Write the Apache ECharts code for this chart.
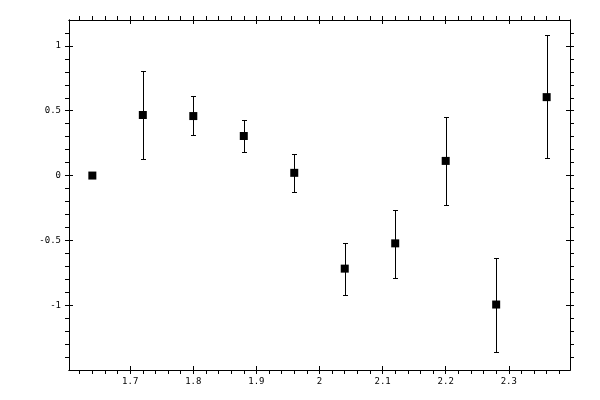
<!DOCTYPE html>
<html>
<head>
<meta charset="utf-8">
<script src="https://cdn.jsdelivr.net/npm/echarts@6/dist/echarts.min.js"></script>
<style>
  html, body { margin: 0; padding: 0; background: #fff; }
  #main { width: 600px; height: 400px; }
</style>
</head>
<body>
<div id="main"></div>
<script>
// measured points
let xValues = [1.64, 1.72, 1.80, 1.88, 1.96, 2.04, 2.12, 2.20, 2.28, 2.36];
let yValues = [0, 0.467, 0.459, 0.305, 0.021, -0.718, -0.523, 0.113, -0.995, 0.605];
let errLow = [null, 0.128, 0.313, 0.182, -0.126, -0.918, -0.787, -0.226, -1.364, 0.136];
let errHigh = [null, 0.805, 0.613, 0.428, 0.169, -0.518, -0.262, 0.451, -0.633, 1.085];

// axis ticks / labels
let xLabelTicks = [1.7, 1.8, 1.9, 2.0, 2.1, 2.2, 2.3];
let yLabelTicks = [-1, -0.5, 0, 0.5, 1];
let xMinorStep = 0.02, xMinorFrom = 1.62, xMinorTo = 2.38;
let yMinorStep = 0.1, yMinorFrom = -1.4, yMinorTo = 1.1;

function steps(from, to, step) {
    let out = [];
    let n = Math.round((to - from) / step);
    for (let i = 0; i <= n; i++) out.push(Math.round((from + i * step) * 1000) / 1000);
    return out;
}
let xMinorTicks = steps(xMinorFrom, xMinorTo, xMinorStep);
let yMinorTicks = steps(yMinorFrom, yMinorTo, yMinorStep);

(function () {
    'use strict'
    let chart = echarts.init(document.getElementById('main'));
    let black = '#000';
    let font = { fontFamily: 'DejaVu Sans Mono', fontSize: 9, color: black };

    function axis(kind, pos, ticks, inside, labels) {
        let isX = kind === 'x';
        return {
            type: 'value',
            position: pos,
            min: isX ? 1.603 : -1.5,
            max: isX ? 2.397 : 1.2,
            axisLine: { show: true, onZero: false, lineStyle: { color: black, width: 1 } },
            axisTick: { show: true, inside: inside, length: 4, customValues: ticks, lineStyle: { color: black, width: 1 } },
            axisLabel: labels ? Object.assign({ show: true, customValues: labels, margin: isX ? 7 : 8 }, font) : { show: false },
            splitLine: { show: false }
        };
    }

    let points = xValues.map((x, i) => [x, yValues[i]]);
    let bars = [];
    xValues.forEach((x, i) => {
        if (errLow[i] != null) bars.push([x, errLow[i], errHigh[i]]);
    });

    let option = {
        animation: false,
        grid: { left: 69, right: 30, top: 20, bottom: 30 },
        xAxis: [
            axis('x', 'bottom', xMinorTicks, false, xLabelTicks),
            axis('x', 'bottom', xLabelTicks, true, null),
            axis('x', 'top', xMinorTicks, false, null),
            axis('x', 'top', xLabelTicks, true, null)
        ],
        yAxis: [
            axis('y', 'left', yMinorTicks, false, yLabelTicks),
            axis('y', 'left', yLabelTicks, true, null),
            axis('y', 'right', yMinorTicks, false, null),
            axis('y', 'right', yLabelTicks, true, null)
        ],
        series: [
            {
                type: 'custom',
                xAxisIndex: 0,
                yAxisIndex: 0,
                data: bars,
                renderItem: function (params, api) {
                    let top = api.coord([api.value(0), api.value(2)]);
                    let bot = api.coord([api.value(0), api.value(1)]);
                    let cx = Math.round(top[0]) + 0.5;
                    let t = Math.round(top[1]) + 0.5;
                    let b = Math.round(bot[1]) + 0.5;
                    let hw = 2.5;
                    let style = { stroke: black, lineWidth: 1, fill: null };
                    return {
                        type: 'group',
                        children: [
                            { type: 'line', shape: { x1: cx, y1: t, x2: cx, y2: b }, style: style },
                            { type: 'line', shape: { x1: cx - hw, y1: t, x2: cx + hw, y2: t }, style: style },
                            { type: 'line', shape: { x1: cx - hw, y1: b, x2: cx + hw, y2: b }, style: style }
                        ]
                    };
                },
                z: 2
            },
            {
                type: 'scatter',
                xAxisIndex: 0,
                yAxisIndex: 0,
                data: points,
                symbol: 'rect',
                symbolSize: 8,
                itemStyle: { color: black, opacity: 1 },
                z: 3
            }
        ]
    };
    chart.setOption(option, true);
}());
</script>
</body>
</html>
